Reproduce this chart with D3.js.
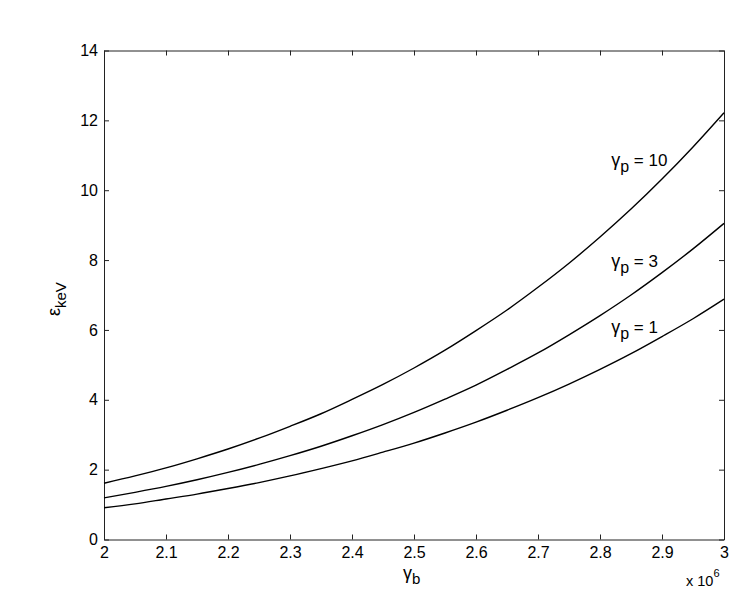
<!DOCTYPE html>
<html><head><meta charset="utf-8">
<script src="https://cdn.jsdelivr.net/npm/d3@7"></script>
<style>body{margin:0;background:#fff}svg{display:block}text{font-family:"Liberation Sans",Arial,sans-serif;fill:#000}</style>
</head><body>
<svg id="c" width="734" height="596"></svg>
<script>
// gamma_b in units of 1e6
const gammaB = [2.00,2.05,2.10,2.15,2.20,2.25,2.30,2.35,2.40,2.45,2.50,2.55,2.60,2.65,2.70,2.75,2.80,2.85,2.90,2.95,3.00];
const eps_gp10 = [1.61,1.82,2.05,2.31,2.59,2.90,3.24,3.60,4.01,4.44,4.91,5.42,5.98,6.57,7.22,7.91,8.66,9.46,10.32,11.24,12.22];
const eps_gp3  = [1.19,1.35,1.52,1.71,1.92,2.15,2.40,2.67,2.97,3.29,3.64,4.02,4.42,4.87,5.34,5.86,6.41,7.00,7.64,8.32,9.05];
const eps_gp1  = [0.91,1.02,1.16,1.30,1.46,1.63,1.82,2.03,2.25,2.50,2.76,3.05,3.36,3.70,4.06,4.45,4.87,5.32,5.81,6.32,6.88];
const seriesLabels = ["10","3","1"];
const labelPos = [{x:2.818, y:10.7}, {x:2.818, y:7.8}, {x:2.818, y:5.9}];
const xTicks = [2,2.1,2.2,2.3,2.4,2.5,2.6,2.7,2.8,2.9,3];
const yTicks = [0,2,4,6,8,10,12,14];

const svg = d3.select("#c");
const L=104, R=724, T=50.5, B=539.5;
const x = d3.scaleLinear().domain([2,3]).range([L,R]);
const y = d3.scaleLinear().domain([0,14]).range([B,T]);
const axCol = "#222";

const fmtX = d => (d===2||d===3) ? String(d) : d3.format(".1f")(d);

const gb = svg.append("g").attr("transform",`translate(0,${B})`)
  .call(d3.axisBottom(x).tickValues(xTicks).tickFormat(fmtX).tickSizeInner(-5).tickSizeOuter(0).tickPadding(7));
const gt = svg.append("g").attr("transform",`translate(0,${T})`)
  .call(d3.axisTop(x).tickValues(xTicks).tickFormat("").tickSizeInner(-5).tickSizeOuter(0));
const gl = svg.append("g").attr("transform",`translate(${L},0)`)
  .call(d3.axisLeft(y).tickValues(yTicks).tickFormat(d3.format("d")).tickSizeInner(-5).tickSizeOuter(0).tickPadding(5));
const gr = svg.append("g").attr("transform",`translate(${R},0)`)
  .call(d3.axisRight(y).tickValues(yTicks).tickFormat("").tickSizeInner(-5).tickSizeOuter(0));
[gb,gt,gl,gr].forEach(g=>{
  g.selectAll("path").attr("stroke",axCol).attr("stroke-width",1);
  g.selectAll("line").attr("stroke",axCol).attr("stroke-width",1);
  g.selectAll("text").attr("font-size",16).attr("font-family","Liberation Sans, Arial, sans-serif").attr("fill","#000");
});
gl.selectAll("text").attr("dx","-1");

const line = d3.line().x((d,i)=>x(gammaB[i])).y(d=>y(d)).curve(d3.curveMonotoneX);
[eps_gp10, eps_gp3, eps_gp1].forEach(s=>{
  svg.append("path").datum(s).attr("d",line).attr("fill","none").attr("stroke","#000").attr("stroke-width",1.4);
});

seriesLabels.forEach((lab,i)=>{
  const t = svg.append("text").attr("x",x(labelPos[i].x)).attr("y",y(labelPos[i].y)).attr("font-size",17);
  t.append("tspan").attr("font-size",18).text("γ");
  t.append("tspan").attr("dy",6).attr("font-size",16).text("p");
  t.append("tspan").attr("dy",-6).text(" = "+lab);
});

const xl = svg.append("text").attr("x",403).attr("y",579).attr("font-size",17);
xl.append("tspan").attr("font-size",18).text("γ");
xl.append("tspan").attr("dy",5).attr("font-size",15).text("b");

const mx = svg.append("text").attr("x",686).attr("y",586).attr("font-size",14.5);
mx.append("tspan").text("x 10");
mx.append("tspan").attr("dy",-9).attr("font-size",11).text("6");

const yl = svg.append("text").attr("transform","translate(60,316) rotate(-90)").attr("font-size",17);
yl.append("tspan").attr("font-size",18).text("ε");
yl.append("tspan").attr("dy",6).attr("font-size",15).text("keV");
</script>
</body></html>
